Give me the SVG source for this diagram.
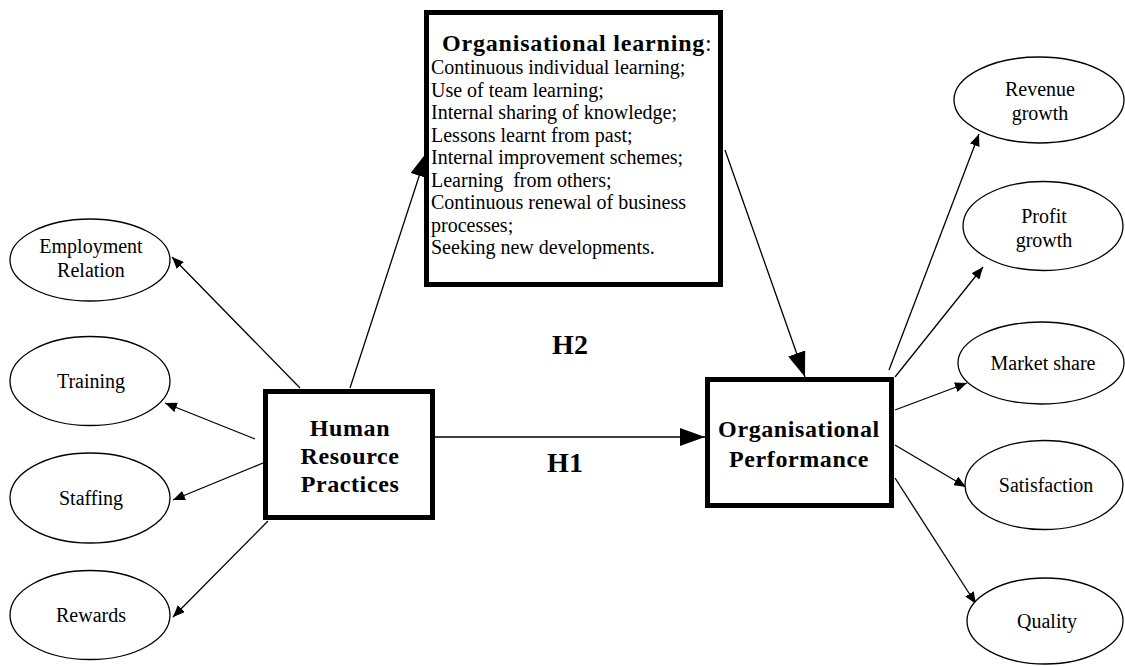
<svg xmlns="http://www.w3.org/2000/svg" width="1125" height="666" viewBox="0 0 1125 666">
<style>
text{font-family:"Liberation Serif","Times New Roman",serif;fill:#000}
.e{font-size:20px;text-anchor:middle}
.b{font-size:24px;font-weight:bold;text-anchor:middle;letter-spacing:0.6px}
.h{font-size:28px;font-weight:bold;text-anchor:middle}
.l{font-size:20px}
.box{fill:#fff;stroke:#000;stroke-width:5}
.ell{fill:#fff;stroke:#000;stroke-width:1.3}
.c line{stroke:#000;stroke-width:1.3}
.s{marker-end:url(#sa)}
.g{marker-end:url(#ba)}
</style>
<defs>
<marker id="sa" viewBox="0 0 12 10" refX="12" refY="5" markerWidth="12" markerHeight="10" markerUnits="userSpaceOnUse" orient="auto"><path d="M0,0 L12,5 L0,10 z" fill="#000"/></marker>
<marker id="ba" viewBox="0 0 25 18" refX="25" refY="9" markerWidth="25" markerHeight="18" markerUnits="userSpaceOnUse" orient="auto"><path d="M0,0 L25,9 L0,18 z" fill="#000"/></marker>
</defs>
<rect width="1125" height="666" fill="#fff"/>
<g class="c" id="connectors">
<line class="s" x1="300" y1="388" x2="172" y2="257"/>
<line class="s" x1="255" y1="439" x2="165" y2="403"/>
<line class="s" x1="263" y1="463" x2="173" y2="500"/>
<line class="s" x1="268" y1="521" x2="173" y2="617"/>
<line class="g" x1="350" y1="388" x2="427" y2="152"/>
<line class="g" x1="435" y1="437" x2="705" y2="437"/>
<line class="g" x1="725" y1="150" x2="805" y2="377"/>
<line class="s" x1="889" y1="370" x2="979" y2="134"/>
<line class="s" x1="895" y1="377" x2="983" y2="267"/>
<line class="s" x1="895" y1="410" x2="967" y2="383"/>
<line class="s" x1="895" y1="445" x2="966" y2="487"/>
<line class="s" x1="895" y1="478" x2="976" y2="604"/>
</g>
<g id="h-labels">
<text class="h" x="570" y="354">H2</text>
<text class="h" x="565" y="472">H1</text>
</g>
<g id="org-learning">
<rect class="box" x="426.5" y="12.5" width="294" height="272"/>
<text x="442" y="51" style="font-size:24px;font-weight:bold;letter-spacing:0.8px">Organisational learning<tspan style="font-weight:normal">:</tspan></text>
<text class="l" x="431" y="74">Continuous individual learning;</text>
<text class="l" x="431" y="96.5">Use of team learning;</text>
<text class="l" x="431" y="119">Internal sharing of knowledge;</text>
<text class="l" x="431" y="141.5">Lessons learnt from past;</text>
<text class="l" x="431" y="164">Internal improvement schemes;</text>
<text class="l" x="431" y="186.5" xml:space="preserve">Learning  from others;</text>
<text class="l" x="431" y="209">Continuous renewal of business</text>
<text class="l" x="431" y="231.5">processes;</text>
<text class="l" x="431" y="254">Seeking new developments.</text>
</g>
<g id="hrp">
<rect class="box" x="265.5" y="391.5" width="167" height="126"/>
<text class="b" x="350" y="436">Human</text>
<text class="b" x="350" y="464">Resource</text>
<text class="b" x="350" y="492">Practices</text>
</g>
<g id="org-performance">
<rect class="box" x="707.5" y="379.5" width="184" height="126"/>
<text class="b" x="799" y="437">Organisational</text>
<text class="b" x="799" y="467">Performance</text>
</g>
<g id="employment">
<ellipse class="ell" cx="90" cy="260" rx="80" ry="41"/>
<text class="e" x="91" y="253">Employment</text>
<text class="e" x="91" y="277">Relation</text>
</g>
<g id="training">
<ellipse class="ell" cx="90" cy="381" rx="80" ry="44.5"/>
<text class="e" x="91" y="388">Training</text>
</g>
<g id="staffing">
<ellipse class="ell" cx="90" cy="498" rx="80" ry="45"/>
<text class="e" x="91" y="505">Staffing</text>
</g>
<g id="rewards">
<ellipse class="ell" cx="90" cy="615" rx="80" ry="44.5"/>
<text class="e" x="91" y="622">Rewards</text>
</g>
<g id="revenue">
<ellipse class="ell" cx="1039" cy="100" rx="85" ry="43"/>
<text class="e" x="1040" y="96">Revenue</text>
<text class="e" x="1040" y="120">growth</text>
</g>
<g id="profit">
<ellipse class="ell" cx="1043" cy="226" rx="80" ry="44.5"/>
<text class="e" x="1044" y="223">Profit</text>
<text class="e" x="1044" y="247">growth</text>
</g>
<g id="market">
<ellipse class="ell" cx="1041" cy="363" rx="83" ry="41"/>
<text class="e" x="1043" y="370">Market share</text>
</g>
<g id="satisfaction">
<ellipse class="ell" cx="1044" cy="485" rx="79" ry="44.5"/>
<text class="e" x="1046" y="492">Satisfaction</text>
</g>
<g id="quality">
<ellipse class="ell" cx="1045" cy="621" rx="78" ry="43"/>
<text class="e" x="1047" y="628">Quality</text>
</g>
</svg>
